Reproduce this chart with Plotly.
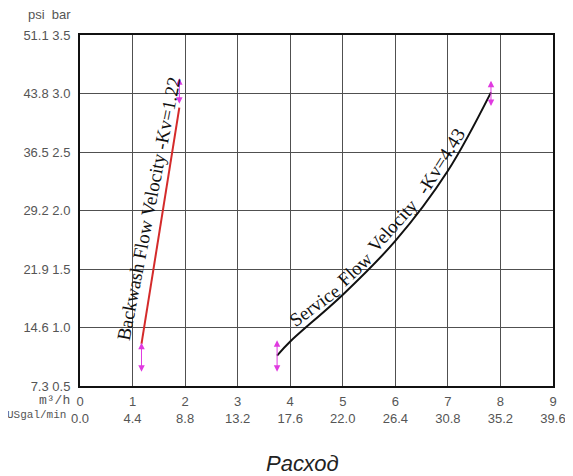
import plotly.graph_objects as go

# flow, m3/h
flow_ticks = [0, 1, 2, 3, 4, 5, 6, 7, 8, 9]
usgal_ticks = ["0.0", "4.4", "8.8", "13.2", "17.6", "22.0", "26.4", "30.8", "35.2", "39.6"]

# pressure, bar / psi
bar_ticks = [0.5, 1.0, 1.5, 2.0, 2.5, 3.0, 3.5]
psi_ticks = ["7.3", "14.6", "21.9", "29.2", "36.5", "43.8", "51.1"]

# curves
backwash_q = [1.17, 1.89]
backwash_bar = [0.86, 2.88]

service_q = [3.75, 4.0, 5.0, 6.0, 7.0, 7.82]
service_bar = [0.76, 0.88, 1.28, 1.74, 2.34, 3.01]

# magenta double arrows at the curve ends: (q, bar_top, bar_bottom)
arrows = [
    (1.17, 0.87, 0.61),
    (1.89, 3.13, 2.90),
    (3.75, 0.89, 0.61),
    (7.82, 3.11, 2.88),
]

fig = go.Figure()

fig.add_trace(go.Scatter(x=backwash_q, y=backwash_bar, mode="lines",
                         line=dict(color="#d42a2a", width=2), hoverinfo="skip"))
fig.add_trace(go.Scatter(x=service_q, y=service_bar, mode="lines",
                         line=dict(color="#111111", width=2, shape="spline"),
                         hoverinfo="skip"))

for q, top, bot in arrows:
    fig.add_annotation(x=q, y=top, ax=q, ay=bot, xref="x", yref="y",
                       axref="x", ayref="y", text="", showarrow=True,
                       arrowside="end+start", arrowhead=2, arrowsize=1.3,
                       arrowwidth=1, arrowcolor="#e03ae0")

serif = dict(family="Liberation Serif, Times New Roman, serif", size=19, color="#111")

fig.add_annotation(x=1.30, y=2.02, text="Backwash Flow Velocity -Kv=1.22",
                   textangle=-79, showarrow=False, font=serif)

# service label follows the curve word by word
service_words = ["Service", "Flow", "Velocity", "-Kv=4.43"]
word_q = [4.46, 5.22, 5.95, 6.86]
word_bar = [1.19, 1.50, 1.87, 2.42]
word_angle = [-36, -43, -48, -58]
for w, q, b, a in zip(service_words, word_q, word_bar, word_angle):
    fig.add_annotation(x=q, y=b, text=w, textangle=a, showarrow=False, font=serif)

gray = "#555555"

fig.add_annotation(xref="paper", yref="paper", x=-0.017, y=-0.04, text="m³/h",
                   xanchor="right", yanchor="middle", showarrow=False,
                   font=dict(family="Liberation Mono, Courier New, monospace", size=13, color=gray))
fig.add_annotation(xref="paper", yref="paper", x=-0.025, y=-0.083, text="USgal/min",
                   xanchor="right", yanchor="middle", showarrow=False,
                   font=dict(family="Liberation Mono, Courier New, monospace", size=11, color=gray))
fig.add_annotation(xref="paper", yref="paper", x=-0.015, y=1.057, text="psi&nbsp;&nbsp;bar",
                   xanchor="right", yanchor="middle", showarrow=False,
                   font=dict(family="Arial, Liberation Sans, sans-serif", size=13, color=gray))
fig.add_annotation(xref="paper", yref="paper", x=0.47, y=-0.22, text="<i>Расход</i>",
                   xanchor="center", yanchor="middle", showarrow=False,
                   font=dict(family="Arial, Liberation Sans, sans-serif", size=22, color="#222"))

fig.update_xaxes(range=[0, 9], tickvals=flow_ticks,
                 ticktext=[f"{q}<br>{u}" for q, u in zip(flow_ticks, usgal_ticks)],
                 showgrid=True, gridcolor="#505050", gridwidth=1,
                 showline=True, linecolor="#111", linewidth=2, mirror=True,
                 zeroline=False, ticks="", ticklabelstandoff=2, automargin=False,
                 tickfont=dict(family="Arial, Liberation Sans, sans-serif", size=13, color=gray))
fig.update_yaxes(range=[0.5, 3.5], tickvals=bar_ticks,
                 ticktext=[f"{p} {b:.1f}" for p, b in zip(psi_ticks, bar_ticks)],
                 showgrid=True, gridcolor="#505050", gridwidth=1,
                 showline=True, linecolor="#111", linewidth=2, mirror=True,
                 zeroline=False, ticks="", ticklabelstandoff=5, automargin=False,
                 tickfont=dict(family="Arial, Liberation Sans, sans-serif", size=13, color=gray))

# the page body adds an 8px offset, so the figure is 8px smaller
fig.update_layout(width=565, height=468, showlegend=False,
                  plot_bgcolor="white", paper_bgcolor="white",
                  margin=dict(l=72, r=20, t=27, b=90, autoexpand=False))

fig.write_html("out.html")
